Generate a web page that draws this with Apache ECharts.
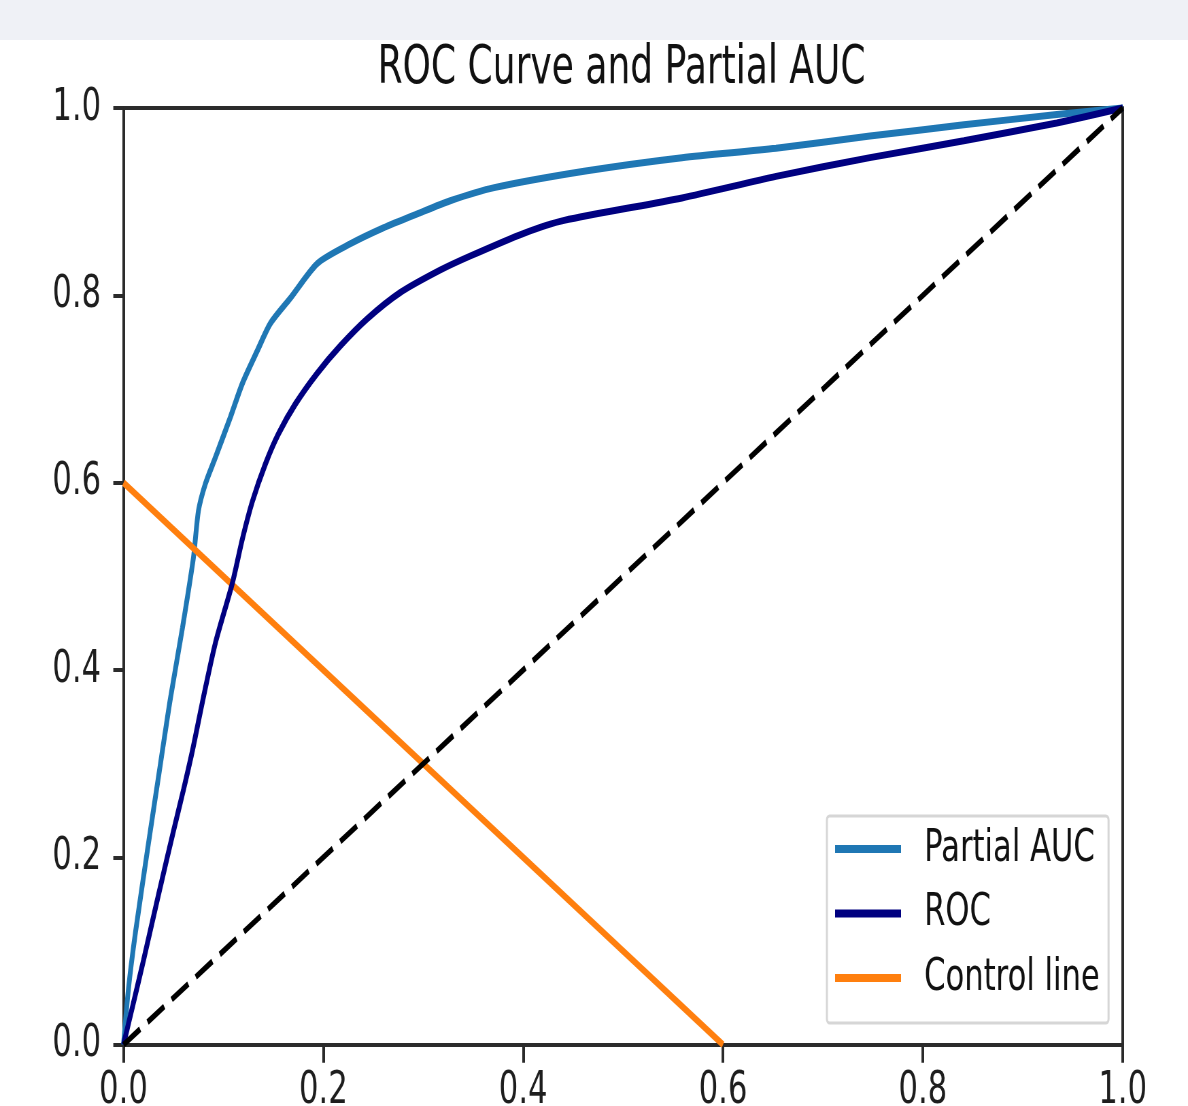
<!DOCTYPE html>
<html><head><meta charset="utf-8">
<script src="https://cdn.jsdelivr.net/npm/echarts@6/dist/echarts.min.js"></script>
<style>
html,body{margin:0;padding:0;background:#fff;overflow:hidden;width:1188px;height:1106px}
#band{position:absolute;left:0;top:0;width:1188px;height:40px;background:#eff1f6}
#chart{position:absolute;left:0;top:0;width:1747px;height:1106px;transform:scaleX(0.68002);transform-origin:0 0}
</style></head><body>
<div id="band"></div>
<div id="chart"></div>
<script>
// ---- data ----
const titleText = 'ROC Curve and Partial AUC';
const seriesNames = ['Partial AUC', 'ROC', 'Control line'];
const fprPartial = [0, 0.005, 0.012, 0.025, 0.037, 0.047, 0.059, 0.070, 0.075, 0.082, 0.092, 0.107, 0.119, 0.134, 0.147, 0.167, 0.194, 0.227, 0.260, 0.294, 0.327, 0.371, 0.464, 0.559, 0.653, 0.747, 0.841, 0.934, 1.0];
const tprPartial = [0, 0.060, 0.120, 0.215, 0.300, 0.370, 0.445, 0.520, 0.570, 0.599, 0.627, 0.670, 0.706, 0.741, 0.770, 0.797, 0.834, 0.855, 0.872, 0.887, 0.901, 0.915, 0.933, 0.947, 0.957, 0.970, 0.982, 0.993, 1.0];
const fprRoc = [0, 0.010, 0.020, 0.035, 0.050, 0.060, 0.069, 0.080, 0.092, 0.109, 0.119, 0.129, 0.142, 0.155, 0.172, 0.194, 0.217, 0.244, 0.277, 0.317, 0.347, 0.400, 0.441, 0.559, 0.653, 0.747, 0.841, 0.934, 1.0];
const tprRoc = [0, 0.045, 0.090, 0.160, 0.228, 0.272, 0.314, 0.371, 0.429, 0.493, 0.540, 0.580, 0.620, 0.652, 0.684, 0.717, 0.746, 0.775, 0.803, 0.827, 0.842, 0.866, 0.880, 0.904, 0.927, 0.947, 0.965, 0.984, 1.0];
const controlX = [0, 0.6];
const controlY = [0.6, 0];
const diagX = [0, 1];
const diagY = [0, 1];
const xTicks = [0.0, 0.2, 0.4, 0.6, 0.8, 1.0];
const yTicks = [0.0, 0.2, 0.4, 0.6, 0.8, 1.0];

// ---- build ----
const zip = (a, b) => a.map((v, i) => [v, b[i]]);
const FONT = 'DejaVu Sans';
const AX = '#2b2b2b';
const chart = echarts.init(document.getElementById('chart'), null, {renderer: 'canvas'});
const mainAxisX = {
  type: 'value', position: 'bottom', min: xTicks[0], max: xTicks[xTicks.length - 1], interval: xTicks[1] - xTicks[0],
  axisLine: {show: true, onZero: false, lineStyle: {color: AX, width: 4}},
  axisTick: {show: true, length: 18, lineStyle: {color: AX, width: 4}},
  axisLabel: {margin: 24, fontSize: 45, fontFamily: FONT, color: '#1e1e1e', showMinLabel: true, showMaxLabel: true,
    formatter: v => v.toFixed(1)},
  splitLine: {show: false}
};
const mainAxisY = {
  type: 'value', position: 'left', min: yTicks[0], max: yTicks[yTicks.length - 1], interval: yTicks[1] - yTicks[0],
  axisLine: {show: true, onZero: false, lineStyle: {color: AX, width: 4}},
  axisTick: {show: true, length: 15, lineStyle: {color: AX, width: 4}},
  axisLabel: {margin: 33, fontSize: 45, fontFamily: FONT, color: '#1e1e1e', showMinLabel: true, showMaxLabel: true,
    formatter: v => v.toFixed(1)},
  splitLine: {show: false}
};
const spine = (pos) => ({
  type: 'value', position: pos, min: 0, max: 1,
  axisLine: {show: true, onZero: false, lineStyle: {color: AX, width: 4}},
  axisTick: {show: false}, axisLabel: {show: false}, splitLine: {show: false}
});
const option = {
  animation: false,
  backgroundColor: 'transparent',
  title: {
    text: titleText, left: 914, top: 43, padding: 0, textAlign: 'center',
    textStyle: {fontFamily: FONT, fontSize: 53, fontWeight: 'normal', color: '#111'}
  },
  grid: {left: 181.6, right: 96, top: 108, bottom: 61.3, containLabel: false, outerBoundsMode: 'none'},
  xAxis: [mainAxisX, spine('top')],
  yAxis: [mainAxisY, spine('right')],
  legend: {
    orient: 'vertical', left: 1216, top: 816,
    data: seriesNames, icon: 'rect', itemWidth: 97, itemHeight: 8, itemGap: 19.5,
    padding: [10.5, 13, 22.5, 12],
    backgroundColor: 'rgba(255,255,255,0.85)', borderColor: '#d6d6d6', borderWidth: 3, borderRadius: 4,
    textStyle: {fontFamily: FONT, fontSize: 45, lineHeight: 45, color: '#111', padding: [0, 0, 0, 29]}
  },
  series: [
    {name: seriesNames[0], type: 'line', data: zip(fprPartial, tprPartial), showSymbol: false, symbol: 'none',
      smooth: 0.25, clip: false, color: '#1f77b4', lineStyle: {width: 7, color: '#1f77b4'}, z: 2},
    {name: seriesNames[2], type: 'line', data: zip(controlX, controlY), showSymbol: false, symbol: 'none',
      clip: false, color: '#ff7f0e', lineStyle: {width: 7, color: '#ff7f0e'}, z: 3},
    {name: seriesNames[1], type: 'line', data: zip(fprRoc, tprRoc), showSymbol: false, symbol: 'none',
      smooth: 0.25, clip: false, color: '#000080', lineStyle: {width: 7, color: '#000080'}, z: 4},
    {name: 'diagonal', type: 'line', data: zip(diagX, diagY), showSymbol: false, symbol: 'none',
      clip: false, color: '#000', lineStyle: {width: 6, color: '#000', type: [29, 13]}, z: 5}
  ]
};
chart.setOption(option);
</script>
</body></html>
